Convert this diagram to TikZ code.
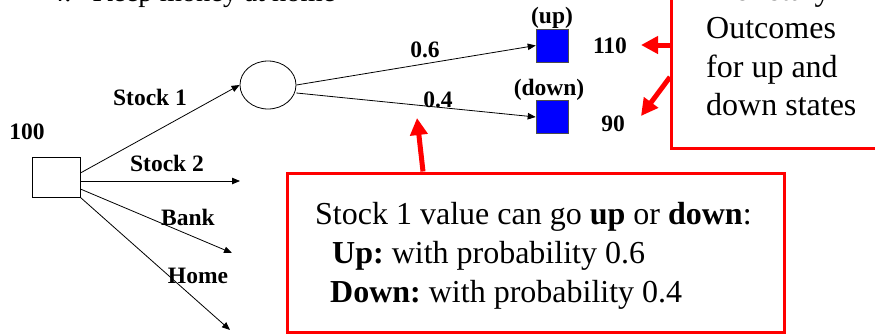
\documentclass[tikz,border=0pt]{standalone}
\usepackage{fontspec}
\setmainfont{Liberation Serif}
\usetikzlibrary{arrows.meta,shapes.geometric}
\frenchspacing
\begin{document}
\begin{tikzpicture}[x=1pt,y=-1pt,
  lbl/.style={font=\fontsize{23.5}{28}\selectfont\bfseries, inner sep=0pt},
  arr/.style={-{Triangle[length=8pt,width=6.5pt]}, line width=0.8pt},
  redarr/.style={red, line width=5pt, -{Triangle[length=17pt,width=17pt]}},
  redbox/.style={draw=red, line width=3pt, inner sep=0pt},
  bigtxt/.style={font=\fontsize{32}{38}\selectfont, inner sep=0pt, anchor=base west},
  outcome/.style={fill=blue, draw=black!70, line width=0.6pt, minimum width=32pt, minimum height=33pt, inner sep=0pt}]
\useasboundingbox (0,0) rectangle (875,333);
\clip (0,0) rectangle (875,333);

% title (cut off at top)
\node[font=\fontsize{28.5}{34}\selectfont, anchor=base west, inner sep=0pt] (title) at (50,1) {4.\hspace{21pt}Keep money at home};

% tree nodes
\node[draw, minimum width=48pt, minimum height=40pt, inner sep=0pt, line width=0.8pt] (dec) at (56,177) {};
\node[draw, ellipse, minimum width=56pt, minimum height=48pt, inner sep=0pt, line width=0.8pt] (chance) at (268,85) {};
\node[outcome] (up) at (552,45.5) {};
\node[outcome] (down) at (552,117) {};

\coordinate (s2end) at (240,181);
\coordinate (bankend) at (232,253);
\coordinate (homeend) at (230,330);

\draw[arr] ([yshift=4pt]dec.east) -- (chance.west);
\draw[arr] ([yshift=-4pt]dec.east) -- (s2end);
\draw[arr] ([yshift=-12pt]dec.east) -- (bankend);
\draw[arr] (dec.south east) -- (homeend);
\draw[arr] (chance.east) -- (up.west);
\draw[arr] ([yshift=-8pt]chance.east) -- (down.west);

% labels
\node[lbl] (l100) at (27,132) {100};
\node[lbl] (ls1) at (150,97) {Stock 1};
\node[lbl] (ls2) at (167,163.5) {Stock 2};
\node[lbl] (lbank) at (188,217.5) {Bank};
\node[lbl] (lhome) at (198,275.5) {Home};
\node[lbl] (l06) at (425,50) {0.6};
\node[lbl] (l04) at (438,100) {0.4};
\node[lbl] (lup) at (552,18) {(up)};
\node[lbl] (ldown) at (549,90) {(down)};
\node[lbl] (l110) at (610,45.5) {110};
\node[lbl] (l90) at (613,123.5) {90};

% info box bottom
\node[redbox, minimum width=497pt, minimum height=159pt] (info) at (535.5,252.5) {};
\node[bigtxt] (i1) at (315,224) {Stock 1 value can go \textbf{up} or \textbf{down}:};
\node[bigtxt] (i2) at (332,263) {\textbf{Up:} with probability 0.6};
\node[bigtxt] (i3) at (330,302) {\textbf{Down:} with probability 0.4};
\coordinate (ptr) at (417,118);
\draw[redarr] ([xshift=-112.5pt]info.north) -- (ptr);

% outcomes box top right
\node[redbox, minimum width=228.5pt, minimum height=198.5pt] (outbox) at (785.75,49.25) {};
\node[bigtxt] (o1) at (706,0) {Monetary};
\node[bigtxt] (o2) at (706,38.5) {Outcomes};
\node[bigtxt] (o3) at (706,77) {for up and};
\node[bigtxt] (o4) at (706,115.5) {down states};
\coordinate (tip110) at (641,45);
\coordinate (tip90) at (641,116);
\draw[redarr] ([yshift=4.25pt]outbox.west) -- (tip110);
\draw[redarr] ([yshift=-27.75pt]outbox.west) -- (tip90);
\end{tikzpicture}
\end{document}
